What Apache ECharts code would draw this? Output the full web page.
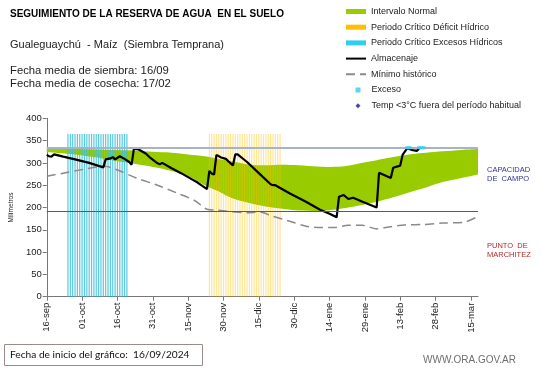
<!DOCTYPE html>
<html><head><meta charset="utf-8">
<script src="https://cdn.jsdelivr.net/npm/echarts@6/dist/echarts.min.js"></script>
<style>html,body{margin:0;padding:0;background:#fff}#c{width:541px;height:368px}</style>
</head><body><div id="c"></div>
<script>
// ---- categories (one per day from 16-sep-2024) ----
const meses = ['ene','feb','mar','abr','may','jun','jul','ago','sep','oct','nov','dic'];
const nDays = 184;
const categories = [];
for (let i = 0; i < nDays; i++) {
  const d = new Date(Date.UTC(2024, 8, 16 + i));
  categories.push(String(d.getUTCDate()).padStart(2, '0') + '-' + meses[d.getUTCMonth()]);
}

// ---- constants ----
const capacidadCampo = 334;
const puntoMarchitez = 192;
const alturaPeriodo = 365;
const periodoExcesos = [9, 34];   // day index start/end
const periodoDeficit = [69, 99];

// ---- Intervalo normal (band) ----
const bandDays  = [0, 12, 20, 26, 37, 45, 53, 60, 67, 73, 79, 86, 93, 100, 107, 115, 120, 127, 133, 140, 147, 155, 161, 168, 176, 183];
const bandUpper = [332, 331, 330, 329, 328, 325, 323, 319, 315, 309, 303, 296, 295, 296, 295, 292, 291, 293, 299, 306, 313, 320, 323, 326, 329, 331];
const bandLower = [324, 319, 313, 307, 298, 291, 282, 270, 250, 236, 220, 210, 202, 197, 193, 192, 194, 199, 205, 213, 223, 236, 245, 257, 266, 274];

// ---- Almacenaje ----
const almDays = [0,1,2,3,4,7,12,18,21,24,25,27,28,29,31,33,35,36,37,39,42,44,47,48,49,53,57,62,64,68,69,70,71,72,74,76,79,80,81,85,90,95,96,97,103,110,116,120,123,124,126,128,130,134,140,141,146,147,150,151,153,155,157,158];
const almVals = [318,315,314,319,318,314,308,300,295,290,308,310,313,308,315,309,302,296,332,330,321,311,299,297,300,288,277,262,256,241,282,276,274,318,312,309,294,319,319,302,277,252,250,250,232,213,195,186,178,224,228,219,222,213,200,278,266,289,294,318,333,329,327,332];

// ---- Mínimo histórico ----
const minDays = [0,7,16,21,24,30,38,47,55,63,68,72,78,85,90,96,102,110,116,122,128,134,140,146,152,160,168,177,183];
const minVals = [270,277,286,291,293,284,266,250,233,215,196,194,191,188,190,180,171,158,155,155,160,160,152,157,161,162,165,167,180];

// ---- Exceso ----
const excesoDays = [153, 154, 158, 159, 160];
const excesoVals = [334, 334, 334, 334, 334];

const pairs = (xs, ys) => xs.map((x, i) => [x, ys[i]]);
const periodBars = (p) => { const out = []; for (let d = p[0]; d <= p[1]; d++) out.push([d, alturaPeriodo]); return out; };

const FF = '"Liberation Sans", Arial, sans-serif';
const hidden = {color: 'rgba(0,0,0,0)', opacity: 0, borderWidth: 0};
const chart = echarts.init(document.getElementById('c'), null, {renderer: 'canvas'});
chart.setOption({
  animation: false,
  backgroundColor: '#fff',
  textStyle: {fontFamily: FF},
  title: [
    {text: 'SEGUIMIENTO DE LA RESERVA DE AGUA  EN EL SUELO', left: 10, top: 9, padding: 0,
     textStyle: {fontSize: 10, fontWeight: 'bold', color: '#000', fontFamily: FF}},
    {text: 'Gualeguaychú  - Maíz  (Siembra Temprana)', left: 10, top: 39, padding: 0,
     textStyle: {fontSize: 11, fontWeight: 'normal', color: '#222', fontFamily: FF}},
    {text: 'Fecha media de siembra: 16/09\nFecha media de cosecha: 17/02', left: 10, top: 64, padding: 0,
     textStyle: {fontSize: 11.3, fontWeight: 'normal', color: '#222', lineHeight: 13.5, fontFamily: FF}}
  ],
  legend: [{
    orient: 'vertical', left: 345, top: 7, itemWidth: 20, itemHeight: 5, itemGap: 6.7,
    selectedMode: false, padding: 0,
    textStyle: {fontSize: 9, color: '#222', fontFamily: FF},
    data: [
      {name: 'Intervalo Normal', icon: 'rect'},
      {name: 'Periodo Crítico Déficit Hídrico', icon: 'rect', itemStyle: {color: '#ffc000', opacity: 1}},
      {name: 'Periodo Crítico Excesos Hídricos', icon: 'rect', itemStyle: {color: '#33ccf0', opacity: 1}},
      {name: 'Almacenaje', itemStyle: hidden},
      {name: 'Mínimo histórico', itemStyle: hidden}
    ]
  }, {
    orient: 'vertical', left: 355.5, top: 85.5, itemWidth: 5, itemHeight: 5, itemGap: 6.7,
    selectedMode: false, padding: 0,
    textStyle: {fontSize: 9, color: '#222', fontFamily: FF, padding: [0, 0, 0, 6]},
    data: [
      {name: 'Exceso', icon: 'rect', itemStyle: {color: '#33ccee'}},
      {name: 'Temp <3°C fuera del período habitual', icon: 'diamond'}
    ]
  }],
  grid: {left: 33, right: 63, top: 118.3, bottom: 71.3, containLabel: false},
  xAxis: {
    type: 'category', data: categories, boundaryGap: false,
    axisLine: {lineStyle: {color: '#777'}},
    axisTick: {interval: 14, length: 4, lineStyle: {color: '#777'}},
    axisLabel: {interval: 14, rotate: 90, fontSize: 9.5, color: '#222', margin: 6, fontFamily: FF},
    splitLine: {show: false}
  },
  yAxis: {
    type: 'value', min: 0, max: 400, interval: 50,
    name: 'Milímetros', nameLocation: 'middle', nameGap: 25,
    nameTextStyle: {fontSize: 6.5, color: '#222', fontFamily: FF},
    axisLine: {show: true, lineStyle: {color: '#777'}},
    axisTick: {show: true, length: 4, lineStyle: {color: '#777'}},
    axisLabel: {fontSize: 9.5, color: '#222', margin: 5, fontFamily: FF},
    splitLine: {show: false}
  },
  series: [
    {name: 'base', type: 'line', stack: 'band', data: pairs(bandDays, bandLower), symbol: 'none', smooth: 0.3,
     lineStyle: {opacity: 0}, silent: true, z: 1,
     markLine: {symbol: 'none', silent: true, label: {show: false}, animation: false,
       data: [
         {yAxis: capacidadCampo, lineStyle: {color: '#a7b3c6', width: 2, type: 'solid'}},
         {yAxis: puntoMarchitez, lineStyle: {color: '#c03030', width: 1, type: 'solid'}}
       ]}},
    {name: 'Intervalo Normal', type: 'line', stack: 'band', data: pairs(bandDays, bandUpper.map((u, i) => u - bandLower[i])),
     symbol: 'none', smooth: 0.3, color: '#99cc00', lineStyle: {opacity: 0}, areaStyle: {color: '#99cc00', opacity: 1}, z: 1},
    {name: 'Periodo Crítico Excesos Hídricos', type: 'bar', data: periodBars(periodoExcesos), barWidth: 1.2, barGap: '-100%',
     itemStyle: {color: '#3cc0d8', opacity: 0.85}, z: 2},
    {name: 'Periodo Crítico Déficit Hídrico', type: 'bar', data: periodBars(periodoDeficit), barWidth: 1.2, barGap: '-100%',
     itemStyle: {color: '#ffc000', opacity: 0.42}, z: 2},
    {name: 'Mínimo histórico', type: 'line', data: pairs(minDays, minVals), symbol: 'none', smooth: 0.3, color: '#8a8a8a',
     lineStyle: {color: '#8a8a8a', width: 1.5, type: [9, 5]}, z: 3},
    {name: 'Almacenaje', type: 'line', data: pairs(almDays, almVals), symbol: 'none', color: '#000',
     lineStyle: {color: '#000', width: 2.2}, z: 4},
    {name: 'Exceso', type: 'scatter', data: pairs(excesoDays, excesoVals), symbol: 'rect', symbolSize: [4, 3],
     itemStyle: {color: '#33ccee'}, z: 5},
    {name: 'Temp <3°C fuera del período habitual', type: 'scatter', data: [], symbol: 'diamond', symbolSize: 5,
     itemStyle: {color: '#1a1aa0'}, z: 5}
  ],
  graphic: [
    {type: 'text', left: 487, top: 166, style: {text: 'CAPACIDAD\nDE  CAMPO', fontSize: 7.5, lineHeight: 8.5, fill: '#33339a', fontFamily: FF}},
    {type: 'text', left: 487, top: 242, style: {text: 'PUNTO  DE\nMARCHITEZ', fontSize: 7.5, lineHeight: 8.5, fill: '#b02a2a', fontFamily: FF}},
    {type: 'rect', shape: {x: 4.5, y: 344.5, width: 198, height: 21}, style: {fill: '#fff', stroke: '#9c8a8a', lineWidth: 1}},
    {type: 'text', x: 10, y: 355, style: {text: 'Fecha de inicio del gráfico:  16/09/2024', fontSize: 10.2, fill: '#111', fontFamily: 'Lato, "Open Sans", sans-serif', textVerticalAlign: 'middle'}},
    {type: 'text', x: 516, y: 360, style: {text: 'WWW.ORA.GOV.AR', fontSize: 10, fill: '#707070', fontFamily: FF, textAlign: 'right', textVerticalAlign: 'middle'}}
  ]
});
</script></body></html>
